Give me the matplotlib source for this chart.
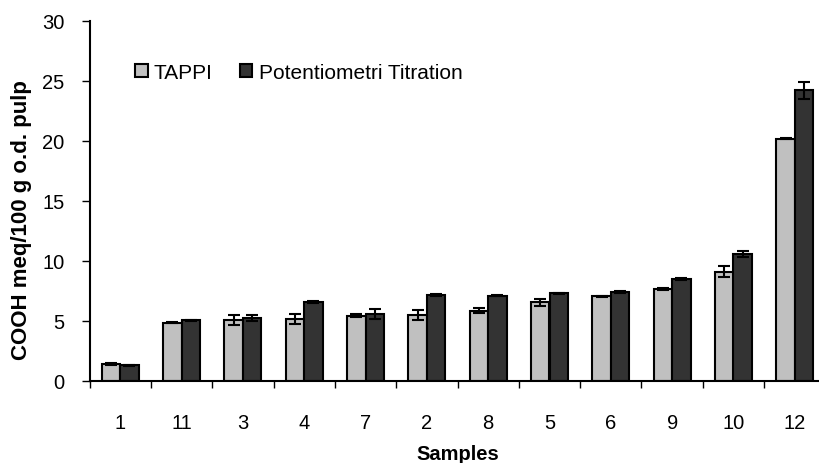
import numpy as np
import matplotlib
matplotlib.use("Agg")
import matplotlib.pyplot as plt
from matplotlib.ticker import FixedLocator, NullFormatter

plt.rcParams['font.family'] = ['Liberation Sans', 'DejaVu Sans']

samples = ["1", "11", "3", "4", "7", "2", "8", "5", "6", "9", "10", "12"]
tappi = [1.4, 4.85, 5.1, 5.15, 5.45, 5.5, 5.85, 6.55, 7.05, 7.65, 9.1, 20.15]
tappi_err = [0.1, 0.05, 0.4, 0.4, 0.1, 0.4, 0.2, 0.3, 0.05, 0.05, 0.45, 0.05]
pot = [1.3, 5.05, 5.25, 6.55, 5.6, 7.15, 7.1, 7.3, 7.4, 8.5, 10.6, 24.2]
pot_err = [0.05, 0.05, 0.25, 0.1, 0.4, 0.1, 0.05, 0.05, 0.05, 0.1, 0.25, 0.7]

W, H = 819, 464
fig = plt.figure(figsize=(W / 100, H / 100), dpi=100)
# plot area runs past the right edge, as in the (cropped) reference
ax = fig.add_axes([89.5 / W, 82 / H, 736 / W, 360.5 / H])

x = np.arange(len(samples))
bw = 0.3
ekw = dict(ecolor="black", elinewidth=1.5, capsize=4, capthick=1.5)
ax.bar(x - bw / 2, tappi, bw, color="#C0C0C0", edgecolor="black", linewidth=1.5,
       label="TAPPI", zorder=2)
ax.bar(x + bw / 2, pot, bw, color="#333333", edgecolor="black", linewidth=1.5,
       label="Potentiometri Titration", zorder=2)
ax.errorbar(x - bw / 2, tappi, yerr=tappi_err, fmt="none", zorder=3, **ekw)
ax.errorbar(x + bw / 2, pot, yerr=pot_err, fmt="none", zorder=3, **ekw)

ax.set_xlim(-0.5, len(samples) - 0.5)
ax.set_ylim(0, 30)
ax.set_yticks(np.arange(0, 31, 5))
ax.xaxis.set_major_locator(FixedLocator(np.arange(-0.5, len(samples), 1)))
ax.xaxis.set_major_formatter(NullFormatter())
ax.xaxis.set_minor_locator(FixedLocator(x))
ax.set_xticklabels(samples, minor=True)
ax.tick_params(axis="x", which="major", direction="out", length=5, width=1)
ax.tick_params(axis="x", which="minor", length=0, pad=23, labelsize=14.5)
ax.tick_params(axis="y", direction="out", length=6, width=1, labelsize=14.5, pad=12)

for s in ["top", "right"]:
    ax.spines[s].set_visible(False)
for s in ["left", "bottom"]:
    ax.spines[s].set_linewidth(1.5)

ax.set_xlabel("Samples", fontsize=14.5, fontweight="bold", labelpad=9)
ax.set_ylabel("COOH meq/100 g o.d. pulp", fontsize=16, fontweight="bold",
              labelpad=7, y=0.449)

ax.legend(loc="center left", bbox_to_anchor=(0.062, 0.857), ncol=2, frameon=False,
          fontsize=15, handlelength=0.6, handleheight=0.6, handletextpad=0.3,
          columnspacing=1.3, borderaxespad=0, borderpad=0)

fig.savefig("out.png", dpi=100)
